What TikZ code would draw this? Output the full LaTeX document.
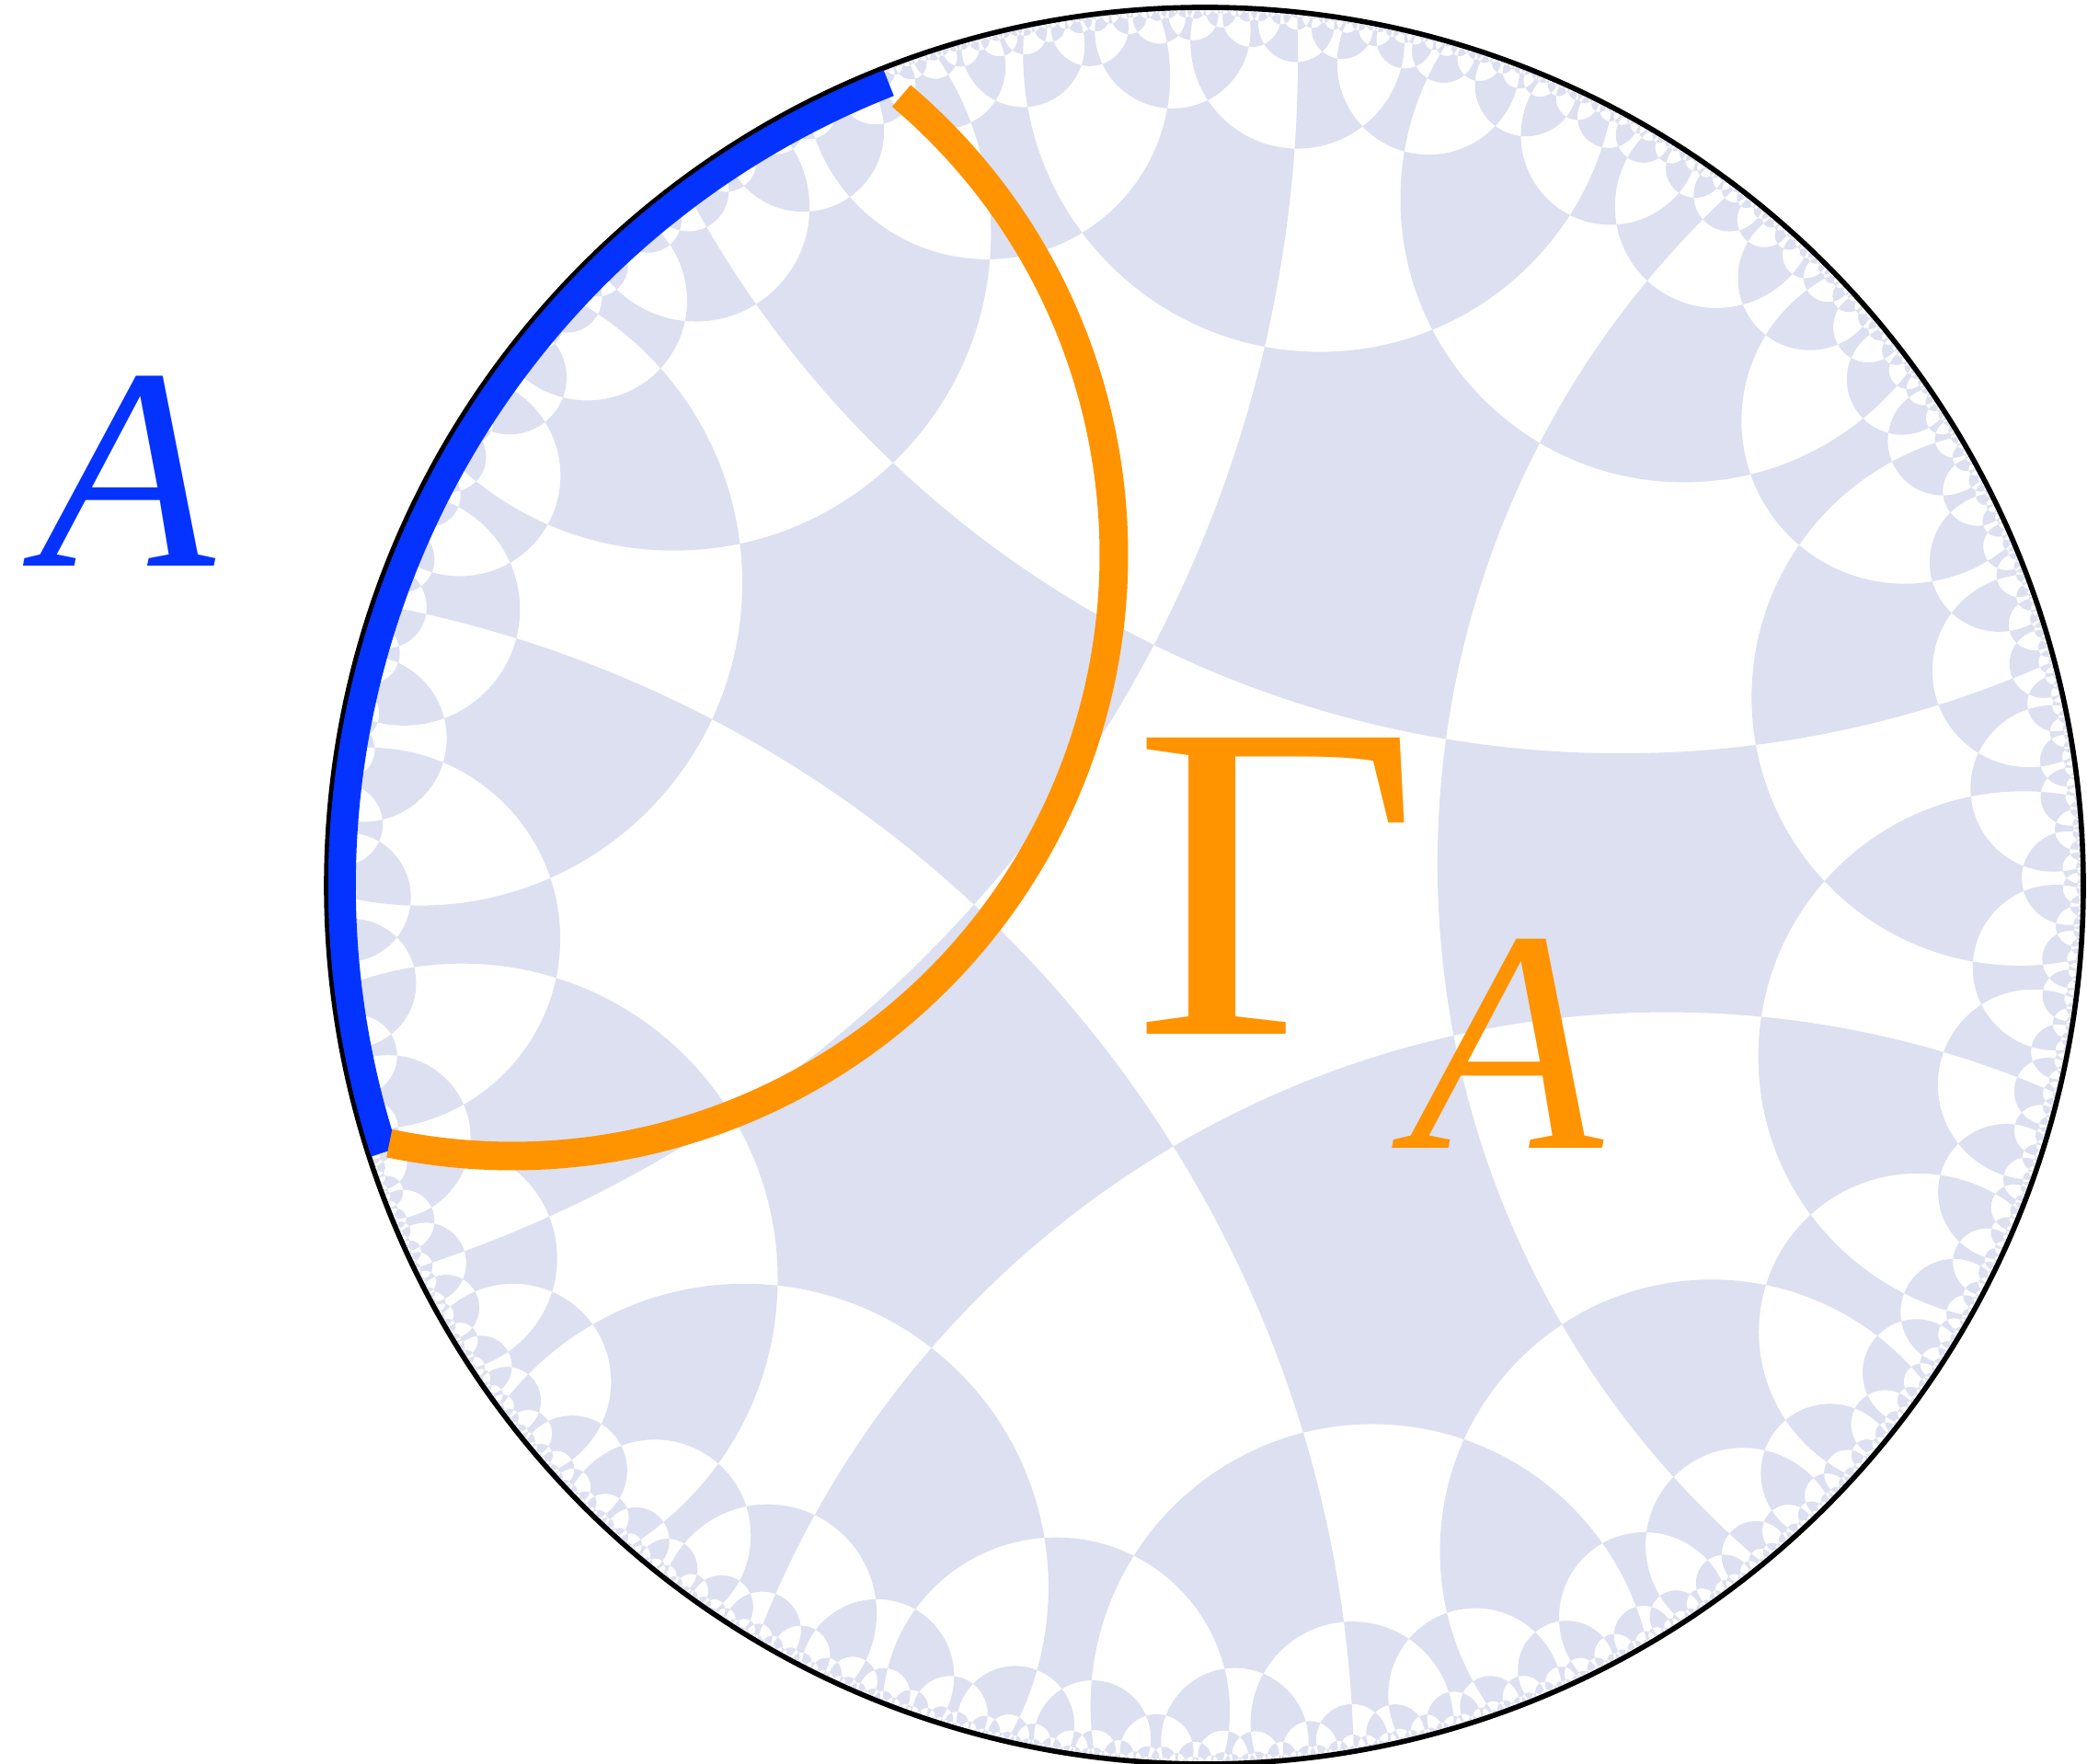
\documentclass[tikz,border=0pt]{standalone}
\usepackage{fontspec}
\setmainfont{Liberation Serif}
\definecolor{tilefill}{RGB}{220,224,240}
\definecolor{setblue}{RGB}{4,51,255}
\definecolor{rtorange}{RGB}{255,147,0}

\ExplSyntaxOn
\fp_const:Nn \c_hyp_ax_fp { 0.050 }
\fp_const:Nn \c_hyp_ay_fp { -0.012 }
\fp_const:Nn \c_hyp_psi_fp { 74 }
\fp_const:Nn \c_hyp_eps_fp { 0.004 }
\fp_const:Nn \c_hyp_A_fp { 0.35 }
\fp_const:Nn \c_hyp_kk_fp { 0.28 }
\fp_const:Nn \c_hyp_ox_fp { 13.10 }
\fp_const:Nn \c_hyp_oy_fp { 9.55 }
\fp_const:Nn \c_hyp_R_fp { 9.55 }
\fp_const:Nn \c_hyp_ch_fp { cosd(45) / sind(36) }
\fp_const:Nn \c_hyp_beta_fp { 90 - 2 * atand( sqrt( (\c_hyp_ch_fp - 1) / (\c_hyp_ch_fp + 1) ) ) }
\fp_new:N \l_hyp_dr_fp \fp_new:N \l_hyp_di_fp \fp_new:N \l_hyp_nr_fp \fp_new:N \l_hyp_ni_fp
\fp_new:N \l_hyp_ox_fp \fp_new:N \l_hyp_oy_fp \fp_new:N \l_hyp_n_fp
\fp_new:N \l_hyp_dx_fp \fp_new:N \l_hyp_dy_fp \fp_new:N \l_hyp_f_fp
\fp_new:N \l_hyp_u_fp \fp_new:N \l_hyp_v_fp \fp_new:N \l_hyp_s_fp \fp_new:N \l_hyp_t_fp
\fp_new:N \l_hyp_cx_fp \fp_new:N \l_hyp_cy_fp \fp_new:N \l_hyp_den_fp
\fp_new:N \l_hyp_g_fp \fp_new:N \l_hyp_m_fp \fp_new:N \l_hyp_mp_fp \fp_new:N \l_hyp_rho_fp
\fp_new:N \l_hyp_d_fp \fp_new:N \l_hyp_h_fp \fp_new:N \l_hyp_D_fp
\fp_new:N \l_hyp_psi_fp
\int_new:N \g_hyp_n_int
\int_new:N \l_hyp_i_int
\seq_new:N \g_hyp_gens_seq
\tl_new:N \g_hyp_path_tl
\tl_new:N \l_hyp_item_tl
\tl_new:N \l_hyp_xa_tl
\tl_new:N \l_hyp_ya_tl
\tl_new:N \l_hyp_xb_tl
\tl_new:N \l_hyp_yb_tl
\tl_new:N \l_hyp_key_tl

\cs_new_protected:Npn \hyp_mobius:nn #1#2
  {
    \fp_set:Nn \l_hyp_dr_fp { 1 + \c_hyp_ax_fp * (#1) + \c_hyp_ay_fp * (#2) }
    \fp_set:Nn \l_hyp_di_fp { \c_hyp_ax_fp * (#2) - \c_hyp_ay_fp * (#1) }
    \fp_set:Nn \l_hyp_nr_fp { (#1) + \c_hyp_ax_fp }
    \fp_set:Nn \l_hyp_ni_fp { (#2) + \c_hyp_ay_fp }
    \fp_set:Nn \l_hyp_ox_fp { \l_hyp_nr_fp * \l_hyp_dr_fp + \l_hyp_ni_fp * \l_hyp_di_fp }
    \fp_set:Nn \l_hyp_oy_fp { \l_hyp_ni_fp * \l_hyp_dr_fp - \l_hyp_nr_fp * \l_hyp_di_fp }
    \fp_set:Nn \l_hyp_n_fp { sqrt( \l_hyp_ox_fp^2 + \l_hyp_oy_fp^2 ) }
    \fp_set:Nn \l_hyp_ox_fp { \l_hyp_ox_fp / \l_hyp_n_fp }
    \fp_set:Nn \l_hyp_oy_fp { \l_hyp_oy_fp / \l_hyp_n_fp }
  }

\cs_new_protected:Npn \hyp_try_add:nnnn #1#2#3#4
  {
    \fp_compare:nNnT { ((#1)-(#3))^2 + ((#2)-(#4))^2 } > { \c_hyp_eps_fp ^2 }
      {
        \int_compare:nNnT { \g_hyp_n_int } < { 9000 }
          {
            \tl_set:Nx \l_hyp_xa_tl { \fp_eval:n { round( (#1) * 20000 ) } }
            \tl_set:Nx \l_hyp_ya_tl { \fp_eval:n { round( (#2) * 20000 ) } }
            \tl_set:Nx \l_hyp_xb_tl { \fp_eval:n { round( (#3) * 20000 ) } }
            \tl_set:Nx \l_hyp_yb_tl { \fp_eval:n { round( (#4) * 20000 ) } }
            \bool_if:nTF
              {
                \int_compare_p:nNn { \l_hyp_xa_tl } < { \l_hyp_xb_tl }
                || ( \int_compare_p:nNn { \l_hyp_xa_tl } = { \l_hyp_xb_tl }
                     && \int_compare_p:nNn { \l_hyp_ya_tl } < { \l_hyp_yb_tl } )
              }
              { \tl_set:Nx \l_hyp_key_tl { hyp@ \l_hyp_xa_tl @ \l_hyp_ya_tl @ \l_hyp_xb_tl @ \l_hyp_yb_tl } }
              { \tl_set:Nx \l_hyp_key_tl { hyp@ \l_hyp_xb_tl @ \l_hyp_yb_tl @ \l_hyp_xa_tl @ \l_hyp_ya_tl } }
            \cs_if_exist:cF { \l_hyp_key_tl }
              {
                \cs_gset:cpn { \l_hyp_key_tl } { }
                \int_gincr:N \g_hyp_n_int
                \tl_gset:cn { g_hyp_line_ \int_use:N \g_hyp_n_int _tl } { {#1}{#2}{#3}{#4} }
              }
          }
      }
  }
\cs_generate_variant:Nn \hyp_try_add:nnnn { xxxx }

\cs_new_protected:Npn \hyp_process_gen:nnnnnnn #1#2#3#4#5#6#7
  {
    \fp_set:Nn \l_hyp_dx_fp { (#1) - (#5) }
    \fp_set:Nn \l_hyp_dy_fp { (#2) - (#6) }
    \fp_set:Nn \l_hyp_f_fp { (#7) / ( \l_hyp_dx_fp^2 + \l_hyp_dy_fp^2 ) }
    \fp_set:Nn \l_hyp_u_fp { (#5) + \l_hyp_f_fp * \l_hyp_dx_fp }
    \fp_set:Nn \l_hyp_v_fp { (#6) + \l_hyp_f_fp * \l_hyp_dy_fp }
    \fp_set:Nn \l_hyp_dx_fp { (#3) - (#5) }
    \fp_set:Nn \l_hyp_dy_fp { (#4) - (#6) }
    \fp_set:Nn \l_hyp_f_fp { (#7) / ( \l_hyp_dx_fp^2 + \l_hyp_dy_fp^2 ) }
    \fp_set:Nn \l_hyp_s_fp { (#5) + \l_hyp_f_fp * \l_hyp_dx_fp }
    \fp_set:Nn \l_hyp_t_fp { (#6) + \l_hyp_f_fp * \l_hyp_dy_fp }
    \hyp_try_add:xxxx { \fp_use:N \l_hyp_u_fp } { \fp_use:N \l_hyp_v_fp }
                      { \fp_use:N \l_hyp_s_fp } { \fp_use:N \l_hyp_t_fp }
  }

\cs_new_protected:Npn \hyp_process:nnnn #1#2#3#4
  {
    \seq_map_inline:Nn \g_hyp_gens_seq
      { \hyp_process_gen:nnnnnnn {#1}{#2}{#3}{#4} ##1 }
  }

% radial rescaling of the disc: hyperbolic distance d -> d - A tanh(kk d / A)
\cs_new_protected:Npn \hyp_fmap:NN #1#2
  {
    \fp_set:Nn \l_hyp_d_fp { ln( (1 + #1) / (1 - #1) ) }
    \fp_set:Nn \l_hyp_h_fp
      { \l_hyp_d_fp - \c_hyp_A_fp * ( 1 - 2 / ( exp( 2 * \c_hyp_kk_fp * \l_hyp_d_fp / \c_hyp_A_fp ) + 1 ) ) }
    \fp_set:Nn #2 { 1 - 2 / ( exp( \l_hyp_h_fp ) + 1 ) }
  }

% each line: the circle through its two end points and its rescaled apex
\cs_new_protected:Npn \hyp_draw_line:nnnn #1#2#3#4
  {
    \fp_set:Nn \l_hyp_den_fp { 1 + (#1)*(#3) + (#2)*(#4) }
    \fp_compare:nNnT { \l_hyp_den_fp } > { 0.05 }
      {
        \fp_set:Nn \l_hyp_cx_fp { ((#1)+(#3)) / \l_hyp_den_fp }
        \fp_set:Nn \l_hyp_cy_fp { ((#2)+(#4)) / \l_hyp_den_fp }
        \fp_set:Nn \l_hyp_g_fp { sqrt( \l_hyp_cx_fp^2 + \l_hyp_cy_fp^2 ) }
        \fp_set:Nn \l_hyp_rho_fp { sqrt( \l_hyp_g_fp^2 - 1 ) }
        \fp_set:Nn \l_hyp_m_fp { \l_hyp_g_fp - \l_hyp_rho_fp }
        \hyp_fmap:NN \l_hyp_m_fp \l_hyp_mp_fp
        \fp_set:Nn \l_hyp_D_fp { (1 - \l_hyp_mp_fp^2) / ( 2 * ( 1 / \l_hyp_g_fp - \l_hyp_mp_fp ) ) }
        \tl_gput_right:Nx \g_hyp_path_tl
          {
            \exp_not:N \pgfpathcircle
              { \exp_not:N \pgfpoint
                  { \fp_eval:n { round( \c_hyp_ox_fp + \c_hyp_R_fp * \l_hyp_cx_fp * \l_hyp_D_fp / \l_hyp_g_fp , 4) } cm }
                  { \fp_eval:n { round( \c_hyp_oy_fp + \c_hyp_R_fp * \l_hyp_cy_fp * \l_hyp_D_fp / \l_hyp_g_fp , 4) } cm } }
              { \fp_eval:n { round( \c_hyp_R_fp * ( \l_hyp_D_fp - \l_hyp_mp_fp ) , 4) } cm }
          }
      }
  }

% the five lines of the central pentagon, then their reflections
\int_step_inline:nnn { 0 } { 4 }
  {
    \fp_set:Nn \l_hyp_psi_fp { \c_hyp_psi_fp - 72 * #1 }
    \hyp_mobius:nn { cosd(\l_hyp_psi_fp + \c_hyp_beta_fp) } { sind(\l_hyp_psi_fp + \c_hyp_beta_fp) }
    \fp_set_eq:NN \l_hyp_u_fp \l_hyp_ox_fp
    \fp_set_eq:NN \l_hyp_v_fp \l_hyp_oy_fp
    \hyp_mobius:nn { cosd(\l_hyp_psi_fp - \c_hyp_beta_fp) } { sind(\l_hyp_psi_fp - \c_hyp_beta_fp) }
    \fp_set_eq:NN \l_hyp_s_fp \l_hyp_ox_fp
    \fp_set_eq:NN \l_hyp_t_fp \l_hyp_oy_fp
    \fp_set:Nn \l_hyp_den_fp { 1 + \l_hyp_u_fp * \l_hyp_s_fp + \l_hyp_v_fp * \l_hyp_t_fp }
    \fp_set:Nn \l_hyp_cx_fp { (\l_hyp_u_fp + \l_hyp_s_fp) / \l_hyp_den_fp }
    \fp_set:Nn \l_hyp_cy_fp { (\l_hyp_v_fp + \l_hyp_t_fp) / \l_hyp_den_fp }
    \seq_gput_right:Nx \g_hyp_gens_seq
      { { \fp_use:N \l_hyp_cx_fp } { \fp_use:N \l_hyp_cy_fp }
        { \fp_eval:n { \l_hyp_cx_fp^2 + \l_hyp_cy_fp^2 - 1 } } }
    \hyp_try_add:xxxx { \fp_use:N \l_hyp_u_fp } { \fp_use:N \l_hyp_v_fp }
                      { \fp_use:N \l_hyp_s_fp } { \fp_use:N \l_hyp_t_fp }
  }

\int_set:Nn \l_hyp_i_int { 1 }
\int_while_do:nNnn { \l_hyp_i_int } < { \g_hyp_n_int + 1 }
  {
    \tl_set_eq:Nc \l_hyp_item_tl { g_hyp_line_ \int_use:N \l_hyp_i_int _tl }
    \exp_after:wN \hyp_process:nnnn \l_hyp_item_tl
    \int_incr:N \l_hyp_i_int
  }

\int_step_inline:nn { \g_hyp_n_int }
  {
    \tl_set_eq:Nc \l_hyp_item_tl { g_hyp_line_ #1 _tl }
    \exp_after:wN \hyp_draw_line:nnnn \l_hyp_item_tl
  }

\cs_new_protected:Npn \hypfill
  {
    \pgfsetfillcolor { tilefill }
    \g_hyp_path_tl
    \pgfseteorule
    \pgfusepath { fill }
  }
\ExplSyntaxOff

\tikzset{
  rim/.style={line width=1.6pt, black},
  setarc/.style={setblue, line width=0.30cm},
  rtarc/.style={rtorange, line width=0.31cm},
  lbl/.style={anchor=base west, inner sep=0pt}
}

\begin{document}
\begin{tikzpicture}
\useasboundingbox (0,0) rectangle (22.69,19.18);
\coordinate (O) at (13.10,9.55);
\coordinate (Oc) at (5.57,13.15);
\begin{scope}
  \clip (O) circle (9.55);
  \hypfill
\end{scope}
\draw[rim] (O) circle (9.55);
\draw[setarc] ([shift={(111.5:9.38)}]O) arc[start angle=111.5, end angle=198, radius=9.38];
\draw[rtarc] ([shift={(49.7:6.54)}]Oc) arc[start angle=49.7, end angle=-101.8, radius=6.54];
\node[lbl, text=setblue, font=\fontsize{89}{89}\selectfont\itshape] (lblA) at (0.42,13.02) {A};
\node[lbl, text=rtorange, font=\fontsize{140}{140}\selectfont] (lblG) at (12.31,7.93) {\scalebox{1.1}[1]{Γ}};
\node[lbl, text=rtorange, font=\fontsize{98}{98}\selectfont\itshape] (lblGA) at (15.32,6.69) {A};
\end{tikzpicture}
\end{document}
